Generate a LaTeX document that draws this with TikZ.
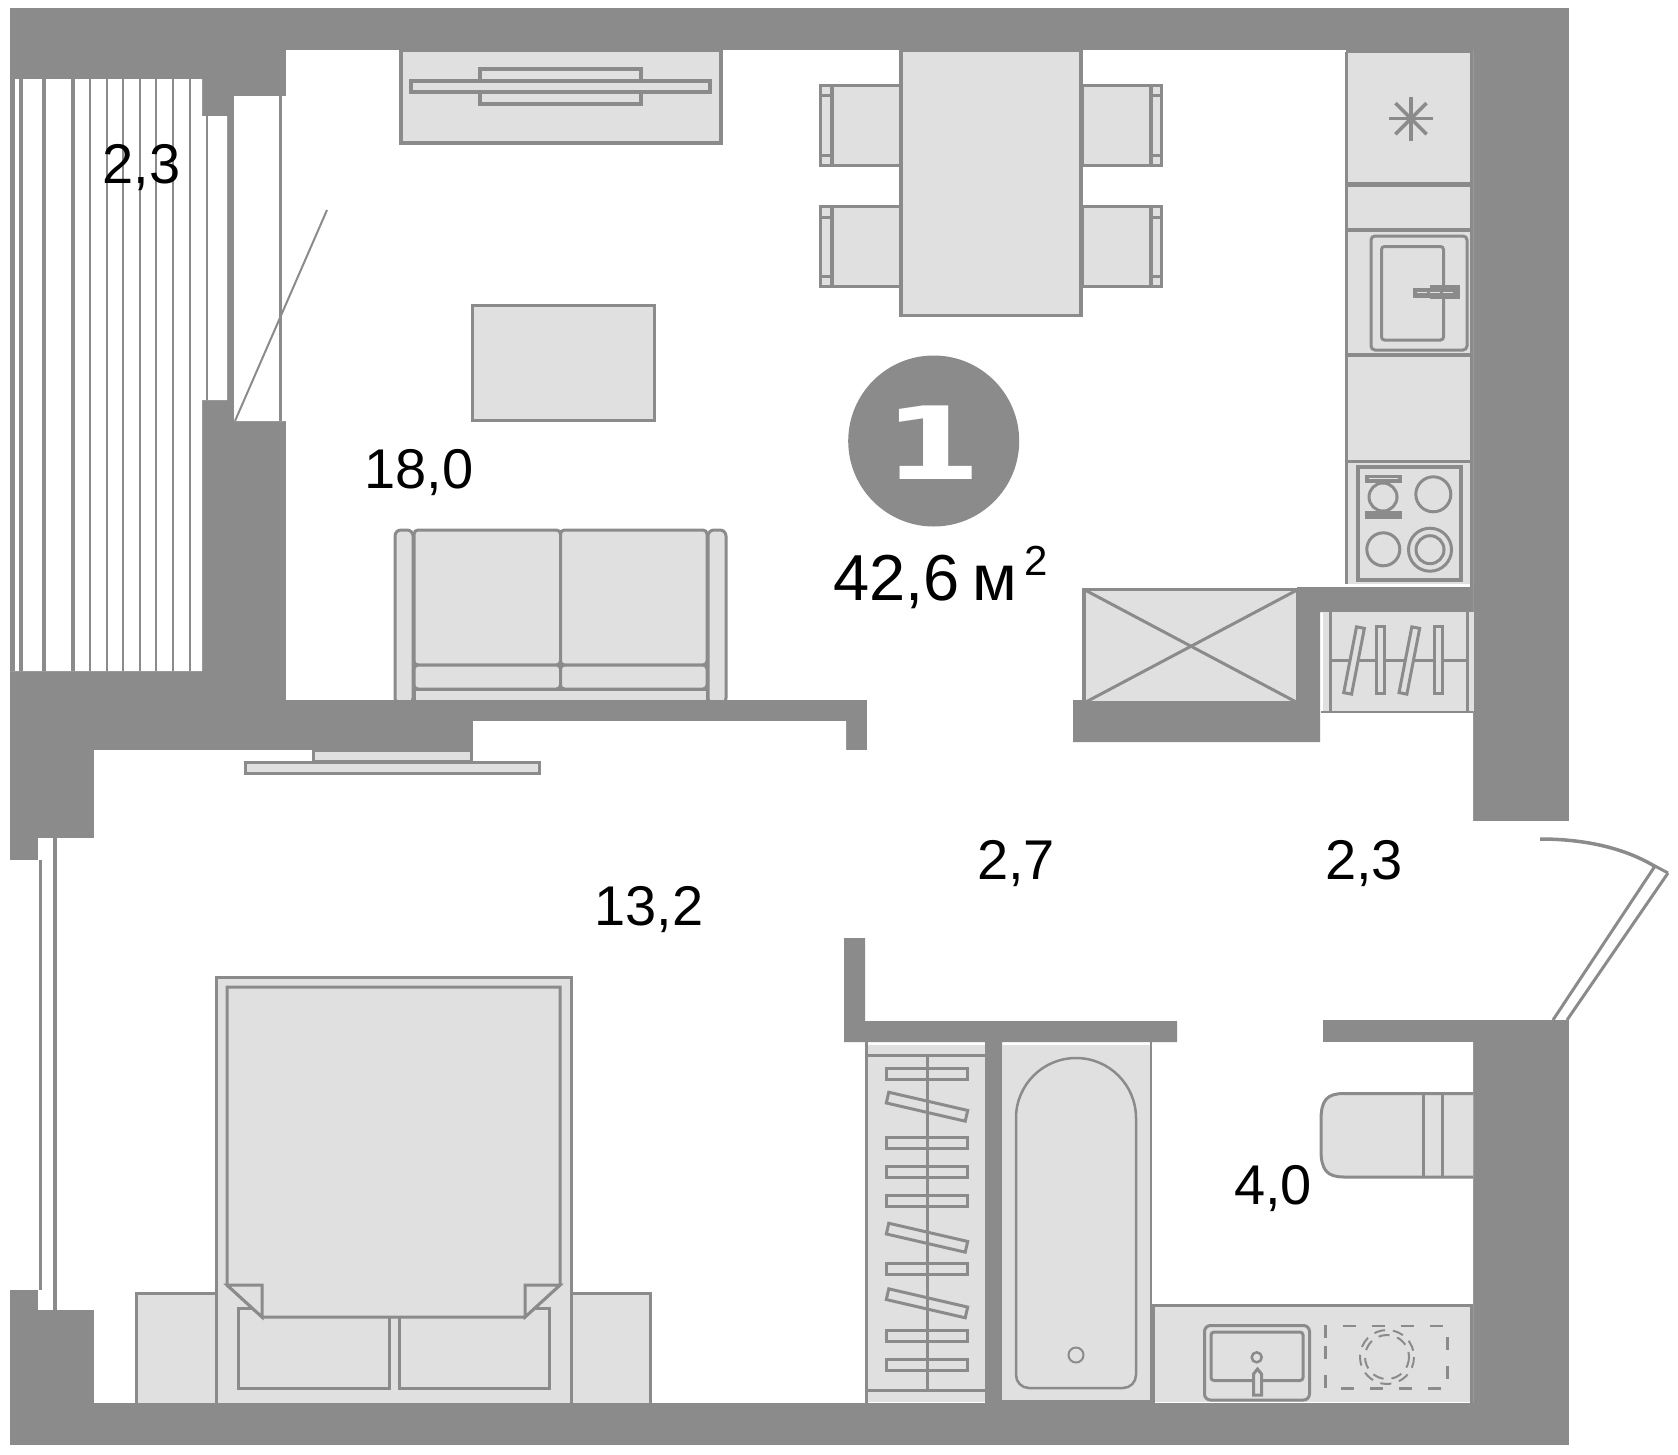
\documentclass[tikz,border=0pt]{standalone}
\usepackage{fontspec}
\setmainfont{Liberation Sans}
\newfontfamily\badgefont{DejaVu Sans}
\definecolor{wallgray}{HTML}{8B8B8B}
\definecolor{furngray}{HTML}{E0E0E0}
\tikzset{
    wall/.style={fill=wallgray},
    room/.style={fill=white},
    furn/.style={draw=wallgray, fill=furngray, line width=3pt},
    thick line/.style={draw=wallgray, line width=3pt},
    thin line/.style={draw=wallgray, line width=2pt},
    area/.style={anchor=base, text=black, font=\fontsize{56}{56}\selectfont},
}
\begin{document}
\begin{tikzpicture}[x=1pt, y=-1pt]
            \useasboundingbox (0,0) rectangle (1678,1454);
            \fill [wall] (10,8) rectangle (1569,1445);
            \fill [room] (286,50) -- (1473,50) -- (1473,821) -- (1590,821) -- (1590,1020) -- (1473,1020) -- (1473,1403) -- (94,1403) -- (94,1310) -- (38,1310) -- (38,1290) -- (0,1290) -- (0,860) -- (38,860) -- (38,838) -- (94,838) -- (94,750) -- (473,750) -- (473,721) -- (846,721) -- (846,750) -- (867,750) -- (867,700) -- (286,700) -- (286,421) -- (234,421) -- (234,96) -- (286,96) -- cycle;
            \fill [room] (10,79) -- (202,79) -- (202,116) -- (227,116) -- (227,400) -- (202,400) -- (202,671) -- (10,671) -- cycle;
            \fill [room] (0,0) rectangle (10,1454);
            \fill [wall] (1297,587) -- (1473,587) -- (1473,612) -- (1320,612) -- (1320,742) -- (1073,742) -- (1073,700) -- (1297,700) -- cycle;
            \fill [wall] (844,938) -- (865,938) -- (865,1021) -- (1177,1021) -- (1177,1042) -- (1002,1042) -- (1002,1403) -- (985,1403) -- (985,1042) -- (844,1042) -- cycle;
            \fill [wall] (1323,1020) rectangle (1569,1042);
            \fill [wall] (10,1290) rectangle (38,1445);
            \fill [wall] (38,1310) rectangle (94,1445);
            \fill [wall] (10,672) rectangle (38,860);
            \fill [wall] (1470,50) rectangle (1473,587);
            \fill [wall] (1346,50) rectangle (1473,53);
            \fill [wall] (1470,1304) rectangle (1473,1403);
            \foreach \sx/\sw in {12.5/5, 21/4, 44/4, 73/4, 89.5/2, 106.5/2, 123/2, 139.7/2, 156.3/2, 173/2, 189.7/2}
                \draw [draw=wallgray, line width=\sw pt] (\sx,79) -- (\sx,671);
            \draw [thin line] (206.5,116) -- (206.5,400);
            \draw [thick line] (280.5,96) -- (280.5,421);
            \draw [thin line] (235,421) -- (327,210);
            \draw [draw=wallgray, line width=3.5pt] (40.5,860) -- (40.5,1290);
            \draw [draw=wallgray, line width=3.5pt] (55,838) -- (55,1310);
            \draw [furn, line width=4pt] (400.5,50) rectangle (721,143);
            \draw [furn, line width=4pt] (480,69) rectangle (641,104);
            \draw [furn, line width=4pt] (411,81) rectangle (710,92);
            \foreach \cy in {85,206.5} {
                \begin{scope}[shift={(0,\cy)}]
                    \draw [furn] (832,0) rectangle (900,80);
                    \draw [furn] (820.5,0) rectangle (831,80);
                    \draw [thick line] (820.5,10.5) -- (831,10.5);
                    \draw [thick line] (820.5,70) -- (831,70);
                \end{scope}
                \begin{scope}[shift={(1982,\cy)}, xscale=-1]
                    \draw [furn] (832,0) rectangle (900,80);
                    \draw [furn] (820.5,0) rectangle (831,80);
                    \draw [thick line] (820.5,10.5) -- (831,10.5);
                    \draw [thick line] (820.5,70) -- (831,70);
                \end{scope}
            }
            \draw [furn, line width=3.5pt] (901,50) rectangle (1081,315.5);
            \draw [furn] (472.5,305.5) rectangle (654.5,420);
            \draw [furn, rounded corners=6pt] (395,530) rectangle (413,704);
            \draw [furn, rounded corners=6pt] (708,530) rectangle (726,704);
            \draw [furn] (414,689) rectangle (707,701);
            \draw [furn, rounded corners=4pt] (414,530) rectangle (560.5,665);
            \draw [furn, rounded corners=4pt] (560.5,530) rectangle (707,665);
            \draw [furn, rounded corners=4pt] (414,665) rectangle (560.5,689);
            \draw [furn, rounded corners=4pt] (560.5,665) rectangle (707,689);
            \fill [wall] (286,700) rectangle (867,721);
            \draw [furn] (313,750) rectangle (471,761);
            \draw [furn] (245.5,762) rectangle (539,773);
            \fill [wall] (94,722) rectangle (473,750);
            \draw [furn] (136,1293) rectangle (216.5,1404);
            \draw [furn] (571.5,1293) rectangle (650,1404);
            \draw [furn] (216.5,977) rectangle (571.5,1404);
            \draw [furn] (238,1308) rectangle (389,1388);
            \draw [furn] (399,1308) rectangle (549,1388);
            \draw [furn] (227,987) -- (560,987) -- (560,1285) -- (525,1317) -- (262,1317) -- (227,1285) -- cycle;
            \draw [furn] (227,1285) -- (262,1285) -- (262,1317) -- cycle;
            \draw [furn] (560,1285) -- (525,1285) -- (525,1317) -- cycle;
            \fill [wall] (10,1403) rectangle (1569,1445);
            \fill [furngray] (1346.5,53) rectangle (1470,584);
            \draw [thick line] (1346.5,52) -- (1346.5,584);
            \fill [wall] (1346,182) rectangle (1470,187);
            \fill [wall] (1346,228) rectangle (1470,232);
            \fill [wall] (1346,353) rectangle (1470,357);
            \fill [wall] (1346,460) rectangle (1470,463);
            \foreach \ang in {0,45,90,135}
                \draw [draw=wallgray, line width=3.5pt] (1411,118.7) ++(\ang:22) -- ++(\ang+180:44);
            \draw [furn, rounded corners=4pt] (1371,236) rectangle (1467,350);
            \draw [furn, rounded corners=3pt] (1381.5,246.5) rectangle (1443.5,340);
            \fill [wall] (1413,288) rectangle (1430,298);
            \fill [wall] (1430,285) rectangle (1460,299);
            \draw [draw=furngray, line width=1pt, dash pattern=on 10pt off 3pt] (1417,292.5) -- (1456,292.5);
            \draw [furn, line width=3.5pt] (1358,467) rectangle (1461,580);
            \draw [furn] (1383,497) circle [radius=14];
            \draw [furn, line width=3.5pt] (1367,476.5) rectangle (1400,481);
            \draw [furn, line width=3.5pt] (1367,513) rectangle (1400,517);
            \draw [thick line] (1433.3,494.3) circle [radius=17.5];
            \draw [thick line] (1383.3,549.3) circle [radius=16.5];
            \draw [thick line] (1430,549.7) circle [radius=21.5];
            \draw [thick line] (1430,549.7) circle [radius=14];
            \draw [furn, line width=3.5pt] (1084,589.5) rectangle (1298,703);
            \draw [thick line] (1084,589.5) -- (1298,703);
            \draw [thick line] (1084,703) -- (1298,589.5);
            \fill [wall] (1073,703) rectangle (1320,742);
            \fill [furngray] (1323,612) rectangle (1474,711);
            \draw [thin line] (1321,712) -- (1473,712);
            \draw [thick line] (1330,612) -- (1330,711);
            \draw [thick line] (1467.5,612) -- (1467.5,711);
            \draw [thick line] (1331,660) -- (1466,660);
            \draw [furn] (1376.5,626.5) rectangle (1384.5,693.5);
            \draw [furn] (1434.5,626.5) rectangle (1442.5,693.5);
            \draw [furn, rotate around={-11:(1354,660.7)}] (1350,627) rectangle (1358,694);
            \draw [furn, rotate around={-11:(1409.3,660.7)}] (1405.3,627) rectangle (1413.3,694);
            \draw [draw=wallgray, line width=3.5pt] (1540,839) .. controls (1585,839) and (1625,848) .. (1656,867);
            \draw [draw=wallgray, line width=3pt] (1655,866) -- (1668,873);
            \draw [draw=wallgray, line width=3pt] (1655,866) -- (1553,1020);
            \draw [draw=wallgray, line width=3pt] (1668,873) -- (1567,1020);
            \fill [furngray] (866,1045) rectangle (985,1402);
            \draw [thick line] (866.5,1042) -- (866.5,1403);
            \draw [thick line] (868,1055) -- (985,1055);
            \draw [thick line] (868,1390) -- (985,1390);
            \draw [thick line] (927,1055) -- (927,1390);
            \foreach \hy in {1074.3,1143,1172.3,1200.7,1269.3,1336,1364.7}
                \draw [draw=wallgray, line width=3pt] (886.5,\hy-5.5) rectangle (967.5,\hy+5.5);
            \foreach \hy in {1106.7,1237.7,1303.3}
                \draw [draw=wallgray, line width=3pt, rotate around={-13:(927,\hy)}] (886.5,\hy-5.5) rectangle (967.5,\hy+5.5);
            \fill [furngray] (1002,1045) rectangle (1150,1400);
            \draw [thin line, line width=2.5pt] (1016,1118) arc [start angle=180, end angle=360, radius=60] -- (1136,1375) arc [start angle=0, end angle=90, radius=13] -- (1029,1388) arc [start angle=90, end angle=180, radius=13] -- cycle;
            \draw [thin line] (1076,1355) circle [radius=7.5];
            \fill [wall] (1002,1400) rectangle (1155,1403);
            \draw [draw=wallgray, line width=2.5pt] (1151,1042) -- (1151,1304);
            \fill [wall] (1150,1304) rectangle (1155,1403);
            \fill [furngray] (1155,1306) rectangle (1470,1402);
            \draw [thick line] (1152,1305) -- (1473,1305);
            \draw [furn] (1473,1093.5) -- (1344,1093.5) .. controls (1327,1093.5) and (1321,1100) .. (1321,1120) -- (1321,1150) .. controls (1321,1170) and (1327,1177) .. (1344,1177) -- (1473,1177);
            \draw [thick line] (1423.3,1093.5) -- (1423.3,1177);
            \draw [thick line] (1442.7,1093.5) -- (1442.7,1177);
            \draw [furn, rounded corners=6pt] (1204.5,1400) -- (1204.5,1325.5) -- (1309.5,1325.5) -- (1309.5,1400) -- cycle;
            \draw [furn, rounded corners=3pt] (1211,1332) rectangle (1303,1380.5);
            \draw [furn, line width=2.5pt] (1256.7,1357.3) circle [radius=5];
            \draw [furn] (1253.5,1395) -- (1253.5,1374) -- (1257.5,1369) -- (1261.5,1374) -- (1261.5,1395) -- cycle;
            \draw [thin line, line width=2.5pt, dash pattern=on 13pt off 16pt] (1325.5,1338) -- (1325.5,1326) -- (1447.5,1326) -- (1447.5,1388.5) -- (1325.5,1388.5) -- cycle;
            \draw [thin line, line width=2pt, dash pattern=on 11pt off 8pt] (1387,1357) circle [radius=27];
            \draw [thin line, line width=2pt, dash pattern=on 11pt off 8pt] (1387,1357) circle [radius=22];
            \fill [wallgray] (933.7,441) circle [radius=85.5];
            \node (badge) [text=white, inner sep=0pt, anchor=base, font=\badgefont\bfseries\fontsize{101}{101}\selectfont] at (933,479) {\scalebox{1.4}[1]{1}};
            \node (balconyarea) [area] at (141.5,183) {2,3};
            \node (livingarea) [area] at (419,488) {18,0};
            \node (bedroomarea) [area] at (649,925) {13,2};
            \node (hallarea) [area] at (1016,879) {2,7};
            \node (entryarea) [area] at (1364,879) {2,3};
            \node (bathroomarea) [area] at (1273,1204) {4,0};
            \node (totalarea) [anchor=base west, inner sep=0pt, font=\fontsize{65}{65}\selectfont] at (833,600) {42,6\kern 13pt м\kern 7pt\raisebox{25pt}{\fontsize{42}{42}\selectfont 2}};
        \end{tikzpicture}
\end{document}
